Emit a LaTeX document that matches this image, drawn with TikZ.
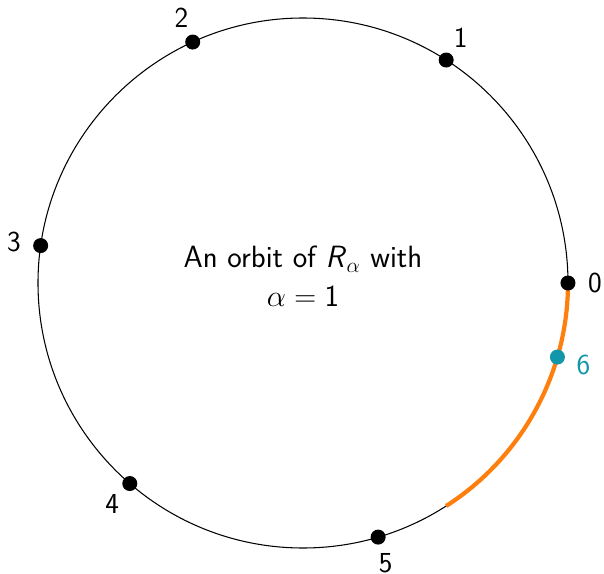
\documentclass[tikz,border=0pt]{standalone}
\definecolor{orbitorange}{RGB}{255,127,14}
\definecolor{orbitteal}{RGB}{18,150,170}
\tikzset{
  orbitpt/.style={circle,fill=black,inner sep=0pt,minimum size=0.3cm},
  orbitlbl/.style={font=\sffamily\fontsize{16.5}{20}\selectfont},
}
\begin{document}
\begin{tikzpicture}
  \useasboundingbox (-6.06,-5.82) rectangle (6.02,5.66);
  % the circle
  \draw[line width=0.6pt] (0,0) circle (5.3);
  % one step of the rotation
  \draw[orbitorange,line width=2.4pt] (0:5.3) arc[start angle=0, end angle=-57.2958, radius=5.3];
  % orbit points
  \foreach \k in {0,...,5}{
    \node[orbitpt] (p\k) at ({\k*57.2958}:5.3) {};
    \node[orbitlbl] (l\k) at ({\k*57.2958}:5.84) {\k};
  }
  \node[orbitpt,fill=orbitteal] (p6) at ({6*57.2958}:5.3) {};
  \node[orbitlbl,text=orbitteal] (l6) at ({6*57.2958}:5.84) {6};
  % caption
  \node[orbitlbl,font=\sffamily\fontsize{17.5}{22}\selectfont,align=center] (title) at (0,0.13)
    {An orbit of $\textsf{\textit{R}}_\alpha$ with\\$\alpha=\textsf{1}$};
\end{tikzpicture}
\end{document}
